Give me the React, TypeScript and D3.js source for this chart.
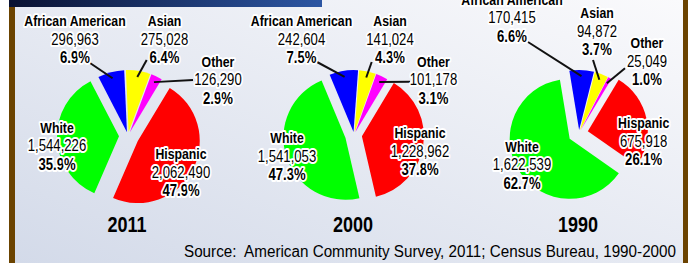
import React from 'react';
import * as d3 from 'd3';

// data
const categories = ['Hispanic', 'White', 'African American', 'Asian', 'Other'];
const sliceColors = ['#ff0000', '#00ff00', '#0000ff', '#ffff00', '#ff00ff'];
const years = ['2011', '2000', '1990'];
const counts2011 = [2062490, 1544226, 296963, 275028, 126290];
const counts2000 = [1228962, 1541053, 242604, 141024, 101178];
const counts1990 = [675918, 1622539, 170415, 94872, 25049];
const pct2011 = [47.9, 35.9, 6.9, 6.4, 2.9];
const pct2000 = [37.8, 47.3, 7.5, 4.3, 3.1];
const pct1990 = [26.1, 62.7, 6.6, 3.7, 1.0];
const sourceNote = 'Source:  American Community Survey, 2011; Census Bureau, 1990-2000';

const W = 690, H = 263;
const FONT = "'Liberation Sans', Arial, sans-serif";
const NARROW = 0.82; // the original uses a condensed face
const LINE = 18.5;
const startAngle = (31 * Math.PI) / 180;

// layout for each pie: centre, radius, explode per slice, label anchors, leader ends
const layouts = [
  {
    cx: 128, cy: 136, r: 62,
    explode: [11, 9, 4, 4, 4],
    labels: [[181, 159], [57, 132.7], [75, 26], [164.5, 26], [218, 66.7]],
    leaders: [null, null, [90, 63], [146.7, 60], [193, 80]],
  },
  {
    cx: 354, cy: 135, r: 62,
    explode: [8, 9, 3, 3, 3],
    labels: [[420, 138.3], [287, 143.3], [301.5, 26], [390, 26], [433.5, 66.7]],
    leaders: [null, null, [317, 62], [371.7, 62], [410, 81.7]],
  },
  {
    cx: 579, cy: 133, r: 60,
    explode: [9, 11, 3, 3, 3],
    labels: [[643.7, 128.3], [522, 151.7], [512, 4.8], [597, 18.3], [647, 48.3]],
    leaders: [null, null, [528, 42], [593, 60], [625, 68.3]],
  },
];

const allCounts = [counts2011, counts2000, counts1990];
const allPct = [pct2011, pct2000, pct1990];

const fmt = d3.format(',');

const halo = {
  paintOrder: 'stroke',
  stroke: '#ffffff',
  strokeWidth: 4,
  strokeLinejoin: 'round' as const,
};

function NText(props: { x: number; y: number; size: number; bold?: boolean; withHalo?: boolean; children: React.ReactNode }) {
  const { x, y, size, bold, withHalo, children } = props;
  return (
    <text transform={`translate(${x},${y}) scale(${NARROW},1)`} fontFamily={FONT} fontSize={size}
      fontWeight={bold ? 'bold' : 'normal'} textAnchor="middle" fill="#000"
      style={withHalo ? halo : undefined}>{children}</text>
  );
}

function Pie({ idx }: { idx: number }) {
  const lay = layouts[idx];
  const counts = allCounts[idx];
  const pcts = allPct[idx];
  const pie = d3.pie<number>().sort(null).value((d) => d)
    .startAngle(startAngle).endAngle(startAngle + 2 * Math.PI);
  const arcs = pie(counts);
  const arc = d3.arc<d3.PieArcDatum<number>>().innerRadius(0).outerRadius(lay.r);

  return (
    <g>
      {arcs.map((a, i) => {
        const mid = (a.startAngle + a.endAngle) / 2;
        const dx = Math.sin(mid) * lay.explode[i];
        const dy = -Math.cos(mid) * lay.explode[i];
        return (
          <path key={i} d={arc(a) || ''} fill={sliceColors[i]}
            transform={`translate(${lay.cx + dx},${lay.cy + dy})`} />
        );
      })}
      {arcs.map((a, i) => {
        const end = lay.leaders[i];
        if (!end) return null;
        const mid = (a.startAngle + a.endAngle) / 2;
        const rr = lay.r * 0.9 + lay.explode[i];
        const x1 = lay.cx + Math.sin(mid) * rr;
        const y1 = lay.cy - Math.cos(mid) * rr;
        return <line key={'l' + i} x1={x1} y1={y1} x2={end[0]} y2={end[1]}
          stroke="#111" strokeWidth={2} />;
      })}
      {arcs.map((a, i) => {
        const [x, y] = lay.labels[i];
        return (
          <g key={'t' + i}>
            <NText x={x} y={y} size={15} bold withHalo>{categories[i]}</NText>
            <NText x={x} y={y + LINE} size={16} withHalo>{fmt(counts[i])}</NText>
            <NText x={x} y={y + LINE * 2} size={16} bold withHalo>{pcts[i].toFixed(1)}%</NText>
          </g>
        );
      })}
      <NText x={lay.cx - 1} y={232} size={22} bold>{years[idx]}</NText>
    </g>
  );
}

export default function App() {
  return (
    <svg width={W} height={H} style={{ position: 'fixed', left: 0, top: 0, background: '#fff' }}>
      <defs>
        <linearGradient id="bg" x1="0" y1="1" x2="1" y2="0">
          <stop offset="0" stopColor="#d3dae9" />
          <stop offset="1" stopColor="#fafafc" />
        </linearGradient>
        <linearGradient id="hdr" x1="0" y1="0" x2="1" y2="0">
          <stop offset="0" stopColor="#0a1232" />
          <stop offset="1" stopColor="#2c56a3" />
        </linearGradient>
      </defs>
      <rect x={0} y={0} width={W} height={H} fill="#fff" />
      <rect x={15} y={0} width={668} height={H} fill="url(#bg)" />
      <rect x={9} y={0} width={6} height={H} fill="#6b4300" />
      <rect x={683} y={0} width={5} height={H} fill="#6b4300" />
      <rect x={9} y={0} width={313} height={7} fill="url(#hdr)" />
      {years.map((_, i) => <Pie key={i} idx={i} />)}
      <text x={184} y={257} fontFamily={FONT} fontSize={16} fill="#000" style={{ whiteSpace: 'pre' }}
        textLength={492} lengthAdjust="spacingAndGlyphs">{sourceNote}</text>
    </svg>
  );
}
